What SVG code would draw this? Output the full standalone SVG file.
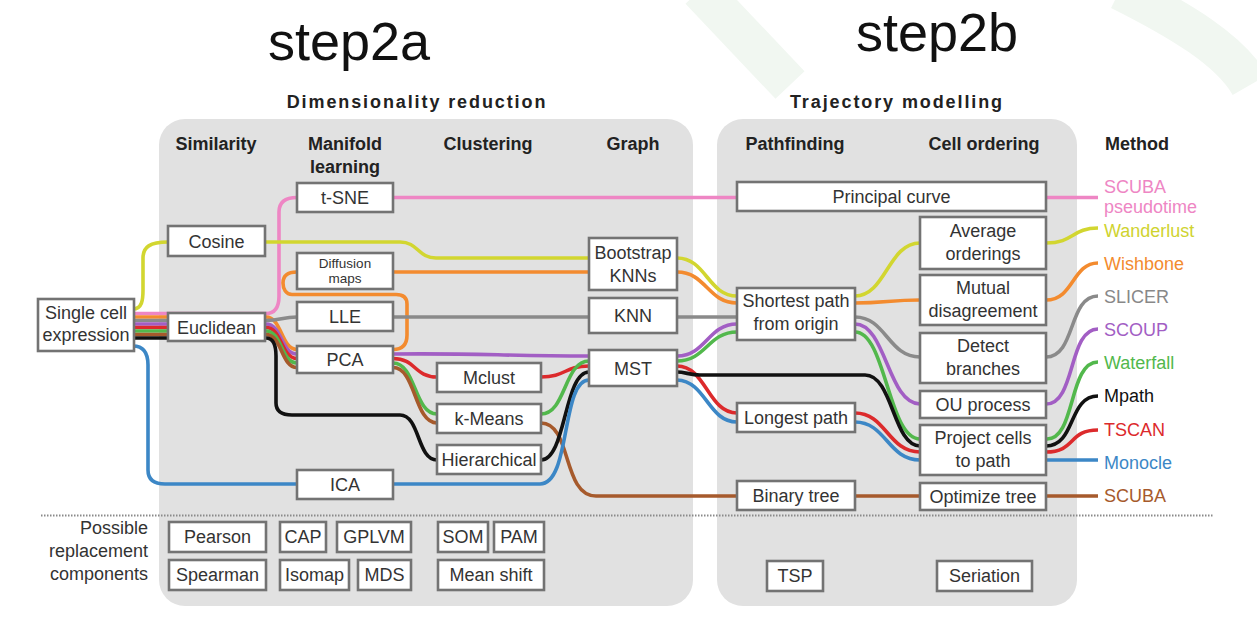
<svg xmlns="http://www.w3.org/2000/svg" width="1257" height="620" viewBox="0 0 1257 620">
<style>
.panel{fill:#e1e1e1}
.box{fill:#fff;stroke:#737373;stroke-width:2.6}
.t{font-family:"Liberation Sans",Arial,sans-serif;font-size:18px;fill:#333;text-anchor:middle}
.sm{font-size:13.5px}
.h{font-family:"Liberation Sans",Arial,sans-serif;font-size:18px;font-weight:bold;fill:#222;text-anchor:middle}
.big{font-family:"Liberation Sans",Arial,sans-serif;font-size:54px;fill:#111;text-anchor:middle}
.m{font-family:"Liberation Sans",Arial,sans-serif;font-size:18px;text-anchor:start}
.ln{fill:none;stroke-width:3.6;stroke-linecap:butt;stroke-linejoin:round}
</style>
<rect width="1257" height="620" fill="#fff"/>
<g id="watermark" fill="none" stroke="#f1f7f1" stroke-width="40">
<path d="M700,-10 L790,85"/>
<path d="M1120,-10 C1180,20 1230,50 1250,85"/>
</g>
<g id="titles">
<text class="big" x="349" y="60">step2a</text>
<text class="big" x="937" y="51">step2b</text>
</g>
<g id="panels">
<rect class="panel" x="159" y="119" width="534" height="487" rx="26"/>
<rect class="panel" x="717" y="119" width="360" height="487" rx="26"/>
<text class="h" x="417" y="108" style="letter-spacing:1.9px">Dimensionality reduction</text>
<text class="h" x="897" y="108" style="letter-spacing:1.9px">Trajectory modelling</text>
<text class="h" x="216" y="150">Similarity</text>
<text class="h" x="345" y="150">Manifold</text>
<text class="h" x="345" y="173">learning</text>
<text class="h" x="488" y="150">Clustering</text>
<text class="h" x="633" y="150">Graph</text>
<text class="h" x="795" y="150">Pathfinding</text>
<text class="h" x="984" y="150">Cell ordering</text>
<text class="h" x="1137" y="150">Method</text>
</g>
<g id="connectors">
<path class="ln" stroke="#ee86c4" d="M133,313.5 H266 C276,313.5 279,306 279,296 V212 C279,203 284,197.5 297,197.5 H1098"/>
<path class="ln" stroke="#d2d630" d="M133,309 C142,309 143,300 143,290 V258 C143,247 150,242 168,242 H400 C418,242 418,258 436,258 H677 C706,258 708,296 737,296 H855 C886,296 888,243 920,243 H1046 C1074,243 1072,228 1098,228"/>
<path class="ln" stroke="#f38b2f" d="M133,317 H266 C282,317 281,349.5 297,349.5 H393 C403,349.5 407,344 407,335 V304 C407,297 403,294.5 396,294.5 H292 C286,294.5 283,289 283,283 C283,276 287,272 297,272 H677 C706,272 708,303 737,303 H855 C885,303 890,300 920,300 H1046 C1074,300 1072,263 1098,263"/>
<path class="ln" stroke="#8a8a8a" d="M133,320.5 H266 C281,320.5 282,317 297,317 H855 C886,317 888,357 920,357 H1046 C1076,357 1068,296 1098,296"/>
<path class="ln" stroke="#a25ec4" d="M133,324 H266 C282,324 281,354 297,354 H393 C480,353 500,356 589,356 H677 C706,356 708,324 737,324 H855 C886,324 888,404 920,404 H1046 C1076,404 1068,329 1098,329"/>
<path class="ln" stroke="#dc2a2c" d="M133,327.5 H266 C282,327.5 281,358.5 297,358.5 H393 C416,358.5 414,377 437,377 H541 C566,377 564,366 589,366 H677 C706,366 708,413 737,413 H855 C886,413 888,452 920,452 H1046 C1076,452 1068,430 1098,430"/>
<path class="ln" stroke="#52b84c" d="M133,331 H266 C282,331 281,363 297,363 H393 C416,363 414,414 437,414 H541 C566,414 564,361 589,361 H677 C706,361 708,332 737,332 H855 C886,332 888,439 920,439 H1046 C1076,441 1068,362 1098,362"/>
<path class="ln" stroke="#a65a2c" d="M133,334.5 H266 C282,334.5 281,367.5 297,367.5 H393 C416,367.5 414,423 437,423 H541 C572,423 562,496 596,496 H1098"/>
<path class="ln" stroke="#111" d="M133,338 H266 C273,338 276,345 276,356 V403 C276,411 282,415 292,415 H400 C420,415 417,460 437,460 H541 C566,460 564,372 589,372 H677 C685,372 690,375 700,375 H865 C893,375 893,446 920,446 H1046 C1076,446 1068,396 1098,396"/>
<path class="ln" stroke="#3c87c6" d="M133,346 C143,346 148,352 148,365 V470 C148,480 154,484 165,484 H540 C571,484 561,380 589,380 H677 C706,381 708,422 737,422 H855 C886,422 888,460 920,460 H1098"/>
</g>
<g id="n-single"><rect class="box" x="38" y="299" width="96" height="52"/><text class="t" x="86" y="318.5">Single cell</text><text class="t" x="86" y="340.5">expression</text></g>
<g id="n-cosine"><rect class="box" x="168" y="226" width="97" height="30"/><text class="t" x="216.5" y="247.5">Cosine</text></g>
<g id="n-euclidean"><rect class="box" x="168" y="313" width="97" height="28"/><text class="t" x="216.5" y="333.5">Euclidean</text></g>
<g id="n-tsne"><rect class="box" x="297" y="183" width="96" height="29"/><text class="t" x="345" y="204">t-SNE</text></g>
<g id="n-diffusion"><rect class="box" x="297" y="253" width="96" height="36"/><text class="t sm" x="345" y="267.5">Diffusion</text><text class="t sm" x="345" y="283">maps</text></g>
<g id="n-lle"><rect class="box" x="297" y="302" width="96" height="29"/><text class="t" x="345" y="323">LLE</text></g>
<g id="n-pca"><rect class="box" x="297" y="346" width="96" height="27"/><text class="t" x="345" y="366">PCA</text></g>
<g id="n-ica"><rect class="box" x="297" y="470" width="96" height="29"/><text class="t" x="345" y="491">ICA</text></g>
<g id="n-mclust"><rect class="box" x="437" y="363" width="104" height="29"/><text class="t" x="489" y="384">Mclust</text></g>
<g id="n-kmeans"><rect class="box" x="437" y="404" width="104" height="29"/><text class="t" x="489" y="425">k-Means</text></g>
<g id="n-hier"><rect class="box" x="437" y="445" width="104" height="29"/><text class="t" x="489" y="466">Hierarchical</text></g>
<g id="n-bootstrap"><rect class="box" x="589" y="238" width="88" height="52"/><text class="t" x="633" y="259">Bootstrap</text><text class="t" x="633" y="281.5">KNNs</text></g>
<g id="n-knn"><rect class="box" x="589" y="298" width="88" height="35"/><text class="t" x="633" y="322">KNN</text></g>
<g id="n-mst"><rect class="box" x="589" y="350" width="88" height="36"/><text class="t" x="633" y="375">MST</text></g>
<g id="n-principal"><rect class="box" x="737" y="182" width="309" height="29"/><text class="t" x="891.5" y="203">Principal curve</text></g>
<g id="n-shortest"><rect class="box" x="737" y="288" width="118" height="52"/><text class="t" x="796" y="307">Shortest path</text><text class="t" x="796" y="330">from origin</text></g>
<g id="n-longest"><rect class="box" x="737" y="403" width="118" height="29"/><text class="t" x="796" y="424">Longest path</text></g>
<g id="n-binary"><rect class="box" x="737" y="481" width="118" height="29"/><text class="t" x="796" y="502">Binary tree</text></g>
<g id="n-average"><rect class="box" x="920" y="217" width="126" height="52"/><text class="t" x="983" y="236.5">Average</text><text class="t" x="983" y="259.5">orderings</text></g>
<g id="n-mutual"><rect class="box" x="920" y="275" width="126" height="50"/><text class="t" x="983" y="294">Mutual</text><text class="t" x="983" y="317">disagreement</text></g>
<g id="n-detect"><rect class="box" x="920" y="333" width="126" height="50"/><text class="t" x="983" y="352">Detect</text><text class="t" x="983" y="375">branches</text></g>
<g id="n-ou"><rect class="box" x="920" y="391" width="126" height="27"/><text class="t" x="983" y="411">OU process</text></g>
<g id="n-project"><rect class="box" x="920" y="425" width="126" height="50"/><text class="t" x="983" y="444">Project cells</text><text class="t" x="983" y="467">to path</text></g>
<g id="n-optimize"><rect class="box" x="920" y="483" width="126" height="27"/><text class="t" x="983" y="503">Optimize tree</text></g>
<g id="methods">
<text class="m" x="1104" y="192.5" fill="#ee86c4">SCUBA</text>
<text class="m" x="1104" y="212.5" fill="#ee86c4">pseudotime</text>
<text class="m" x="1104" y="236.5" fill="#cfd330">Wanderlust</text>
<text class="m" x="1104" y="269.5" fill="#f38b2f">Wishbone</text>
<text class="m" x="1104" y="302.5" fill="#888">SLICER</text>
<text class="m" x="1104" y="336" fill="#a25ec4">SCOUP</text>
<text class="m" x="1104" y="369" fill="#52b84c">Waterfall</text>
<text class="m" x="1104" y="402" fill="#111">Mpath</text>
<text class="m" x="1104" y="436" fill="#dc2a2c">TSCAN</text>
<text class="m" x="1104" y="469" fill="#3c87c6">Monocle</text>
<text class="m" x="1104" y="502" fill="#a65a2c">SCUBA</text>
</g>
<line id="divider" x1="41" y1="515.5" x2="1214" y2="515.5" stroke="#8a8a8a" stroke-width="2" stroke-dasharray="1.5 1.5"/>
<g id="replacements">
<text class="t" x="148" y="534" style="text-anchor:end">Possible</text>
<text class="t" x="148" y="557" style="text-anchor:end">replacement</text>
<text class="t" x="148" y="580" style="text-anchor:end">components</text>
<g id="r-pearson"><rect class="box" x="169" y="522" width="97" height="30"/><text class="t" x="217.5" y="543">Pearson</text></g>
<g id="r-cap"><rect class="box" x="280" y="522" width="46" height="30"/><text class="t" x="303" y="543">CAP</text></g>
<g id="r-gplvm"><rect class="box" x="337" y="522" width="74" height="30"/><text class="t" x="374" y="543">GPLVM</text></g>
<g id="r-som"><rect class="box" x="438" y="522" width="50" height="30"/><text class="t" x="463" y="543">SOM</text></g>
<g id="r-pam"><rect class="box" x="494" y="522" width="50" height="30"/><text class="t" x="519" y="543">PAM</text></g>
<g id="r-spearman"><rect class="box" x="169" y="560" width="97" height="30"/><text class="t" x="217.5" y="581">Spearman</text></g>
<g id="r-isomap"><rect class="box" x="280" y="560" width="69" height="30"/><text class="t" x="314.5" y="581">Isomap</text></g>
<g id="r-mds"><rect class="box" x="358" y="560" width="53" height="30"/><text class="t" x="384.5" y="581">MDS</text></g>
<g id="r-meanshift"><rect class="box" x="438" y="560" width="106" height="30"/><text class="t" x="491" y="581">Mean shift</text></g>
<g id="r-tsp"><rect class="box" x="767" y="561" width="56" height="30"/><text class="t" x="795" y="582">TSP</text></g>
<g id="r-seriation"><rect class="box" x="937" y="561" width="95" height="30"/><text class="t" x="984.5" y="582">Seriation</text></g>
</g>
</svg>
